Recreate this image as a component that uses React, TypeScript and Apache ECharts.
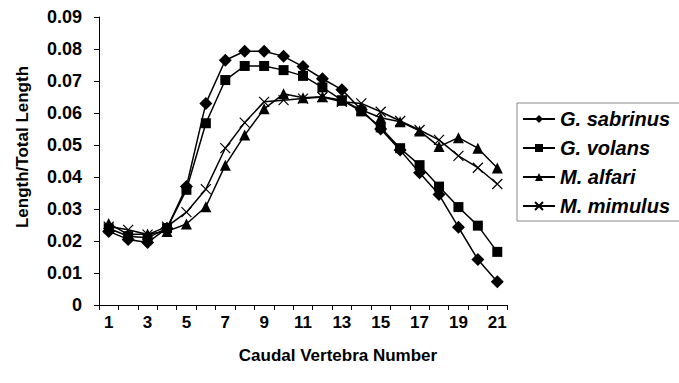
import React, { useEffect, useRef } from "react";
import * as echarts from "echarts";

const categories = ["1","2","3","4","5","6","7","8","9","10","11","12","13","14","15","16","17","18","19","20","21"];
const seriesNames = ["G. sabrinus", "G. volans", "M. alfari", "M. mimulus"];
const sabrinus = [0.023, 0.0205, 0.0195, 0.024, 0.037, 0.063, 0.0765, 0.0793, 0.0793, 0.0777, 0.0745, 0.0707, 0.0673, 0.061, 0.055, 0.0484, 0.0413, 0.0345, 0.0243, 0.0142, 0.0073];
const volans = [0.024, 0.0215, 0.021, 0.024, 0.036, 0.0568, 0.0703, 0.0747, 0.0747, 0.0734, 0.0716, 0.068, 0.064, 0.0605, 0.0555, 0.049, 0.0437, 0.037, 0.0306, 0.0248, 0.0166];
const alfari = [0.0255, 0.022, 0.0222, 0.023, 0.0253, 0.0307, 0.0437, 0.0531, 0.0613, 0.066, 0.0648, 0.0651, 0.064, 0.061, 0.0585, 0.0573, 0.0544, 0.0495, 0.0523, 0.049, 0.0428];
const mimulus = [0.0245, 0.0235, 0.022, 0.0245, 0.029, 0.0362, 0.049, 0.057, 0.0635, 0.064, 0.0645, 0.065, 0.0635, 0.063, 0.0604, 0.0575, 0.0547, 0.0516, 0.0466, 0.0429, 0.0378];
const xTitle = "Caudal Vertebra Number";
const yTitle = "Length/Total Length";

const FONT = "'Liberation Sans', Arial, sans-serif";

export default function App() {
  const ref = useRef<HTMLDivElement>(null);
  useEffect(() => {
    if (!ref.current) return;
    const chart = echarts.init(ref.current, null, { renderer: "svg" });
    const base = (name: string, data: number[], symbol: string, size: number) => ({
      name,
      type: "line",
      data,
      symbol,
      symbolSize: size,
      showAllSymbol: true,
      lineStyle: { color: "#000", width: 1.5 },
      itemStyle: { color: "#000", borderColor: "#000", borderWidth: 0 },
      emphasis: { disabled: true },
    });
    chart.setOption({
      animation: false,
      backgroundColor: "#fff",
      grid: { left: 99, right: 172, top: 17, bottom: 78, containLabel: false },
      xAxis: {
        type: "category",
        data: categories,
        boundaryGap: true,
        axisLine: { lineStyle: { color: "#000", width: 1 } },
        axisTick: { show: true, interval: 0, length: 5, lineStyle: { color: "#000" } },
        axisLabel: { interval: 1, margin: 9, color: "#000", fontSize: 17, fontWeight: "bold", fontFamily: FONT },
        splitLine: { show: false },
      },
      yAxis: {
        type: "value",
        min: 0,
        max: 0.09,
        interval: 0.01,
        axisLine: { show: true, lineStyle: { color: "#000", width: 1 } },
        axisTick: { show: true, length: 5, lineStyle: { color: "#000" } },
        axisLabel: {
          margin: 17,
          color: "#000",
          fontSize: 18,
          fontWeight: "bold",
          fontFamily: FONT,
          formatter: (v: number) => (Math.abs(v) < 1e-9 ? "0" : v.toFixed(2)),
        },
        splitLine: { show: false },
      },
      legend: {
        orient: "vertical",
        left: 517,
        top: 103,
        padding: [6, 14, 5, 5],
        itemGap: 9,
        itemWidth: 32,
        itemHeight: 10,
        borderColor: "#888",
        borderWidth: 1,
        data: seriesNames,
        textStyle: { color: "#000", fontSize: 20, fontWeight: "bold", fontStyle: "italic", fontFamily: FONT, lineHeight: 20 },
      },
      graphic: [
        {
          type: "text",
          x: 338,
          y: 355,
          style: { text: xTitle, fill: "#000", font: `bold 17px ${FONT}`, textAlign: "center", textVerticalAlign: "middle" },
        },
        {
          type: "text",
          x: 22,
          y: 147,
          rotation: Math.PI / 2,
          style: { text: yTitle, fill: "#000", font: `bold 17px ${FONT}`, textAlign: "center", textVerticalAlign: "middle" },
        },
      ],
      series: [
        base(seriesNames[0], sabrinus, "diamond", 13),
        base(seriesNames[1], volans, "rect", 10),
        base(seriesNames[2], alfari, "triangle", 11),
        {
          ...base(seriesNames[3], mimulus, "path://M0 0 L10 10 M10 0 L0 10", 10),
          itemStyle: { color: "rgba(0,0,0,0)", borderColor: "#000", borderWidth: 1.2 },
        },
      ],
    });
    return () => chart.dispose();
  }, []);
  return <div ref={ref} style={{ position: "fixed", left: 0, top: 0, width: 679, height: 383 }} />;
}
